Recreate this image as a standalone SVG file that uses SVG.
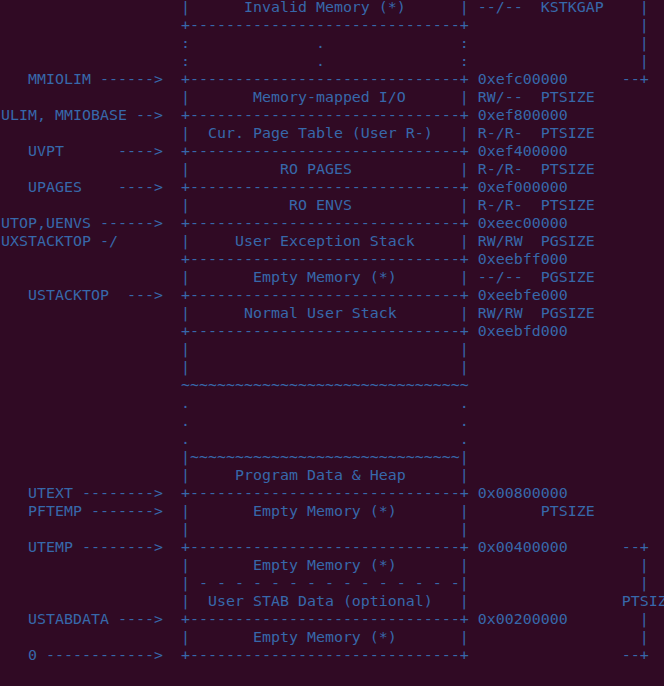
<svg xmlns="http://www.w3.org/2000/svg" width="664" height="686" viewBox="0 0 664 686" xml:space="preserve">
<style>
text { font-family: "DejaVu Sans Mono", "Liberation Mono", monospace; font-size: 14.95px; fill: #3768aa; white-space: pre; }
</style>
<rect x="0" y="0" width="664" height="686" fill="#300a24"/>
<g transform="translate(0,-1)">
<g id="pointers">
<text x="1" y="85">   MMIOLIM ------&gt;</text>
<text x="1" y="121">ULIM, MMIOBASE --&gt;</text>
<text x="1" y="157">   UVPT      ----&gt;</text>
<text x="1" y="193">   UPAGES    ----&gt;</text>
<text x="1" y="229">UTOP,UENVS ------&gt;</text>
<text x="1" y="247">UXSTACKTOP -/</text>
<text x="1" y="301">   USTACKTOP  ---&gt;</text>
<text x="1" y="499">   UTEXT --------&gt;</text>
<text x="1" y="517">   PFTEMP -------&gt;</text>
<text x="1" y="553">   UTEMP --------&gt;</text>
<text x="1" y="625">   USTABDATA ----&gt;</text>
<text x="1" y="661">   0 ------------&gt;</text>
</g>
<g id="invalid-memory">
<text x="181" y="13">|      Invalid Memory (*)      | --/--  KSTKGAP    |</text>
<text x="181" y="31">+------------------------------+                   |</text>
<text x="181" y="49">:              .               :                   |</text>
<text x="181" y="67">:              .               :                   |</text>
</g>
<g id="mmio">
<text x="181" y="85">+------------------------------+ 0xefc00000      --+</text>
<text x="181" y="103">|       Memory-mapped I/O      | RW/--  PTSIZE</text>
</g>
<g id="cur-page-table">
<text x="181" y="121">+------------------------------+ 0xef800000</text>
<text x="181" y="139">|  Cur. Page Table (User R-)   | R-/R-  PTSIZE</text>
</g>
<g id="ro-pages">
<text x="181" y="157">+------------------------------+ 0xef400000</text>
<text x="181" y="175">|          RO PAGES            | R-/R-  PTSIZE</text>
</g>
<g id="ro-envs">
<text x="181" y="193">+------------------------------+ 0xef000000</text>
<text x="181" y="211">|           RO ENVS            | R-/R-  PTSIZE</text>
</g>
<g id="user-exception-stack">
<text x="181" y="229">+------------------------------+ 0xeec00000</text>
<text x="181" y="247">|     User Exception Stack     | RW/RW  PGSIZE</text>
</g>
<g id="empty-memory-1">
<text x="181" y="265">+------------------------------+ 0xeebff000</text>
<text x="181" y="283">|       Empty Memory (*)       | --/--  PGSIZE</text>
</g>
<g id="normal-user-stack">
<text x="181" y="301">+------------------------------+ 0xeebfe000</text>
<text x="181" y="319">|      Normal User Stack       | RW/RW  PGSIZE</text>
<text x="181" y="337">+------------------------------+ 0xeebfd000</text>
<text x="181" y="355">|                              |</text>
<text x="181" y="373">|                              |</text>
<text x="181" y="391">~~~~~~~~~~~~~~~~~~~~~~~~~~~~~~~~</text>
</g>
<g id="gap">
<text x="181" y="409">.                              .</text>
<text x="181" y="427">.                              .</text>
<text x="181" y="445">.                              .</text>
</g>
<g id="program-data-heap">
<text x="181" y="463">|~~~~~~~~~~~~~~~~~~~~~~~~~~~~~~|</text>
<text x="181" y="481">|     Program Data &amp; Heap      |</text>
</g>
<g id="empty-memory-2">
<text x="181" y="499">+------------------------------+ 0x00800000</text>
<text x="181" y="517">|       Empty Memory (*)       |        PTSIZE</text>
<text x="181" y="535">|                              |</text>
</g>
<g id="empty-memory-3">
<text x="181" y="553">+------------------------------+ 0x00400000      --+</text>
<text x="181" y="571">|       Empty Memory (*)       |                   |</text>
<text x="181" y="589">| - - - - - - - - - - - - - - -|                   |</text>
</g>
<g id="user-stab-data">
<text x="181" y="607">|  User STAB Data (optional)   |                 PTSIZE</text>
</g>
<g id="empty-memory-4">
<text x="181" y="625">+------------------------------+ 0x00200000        |</text>
<text x="181" y="643">|       Empty Memory (*)       |                   |</text>
<text x="181" y="661">+------------------------------+                 --+</text>
</g>
</g>
</svg>
